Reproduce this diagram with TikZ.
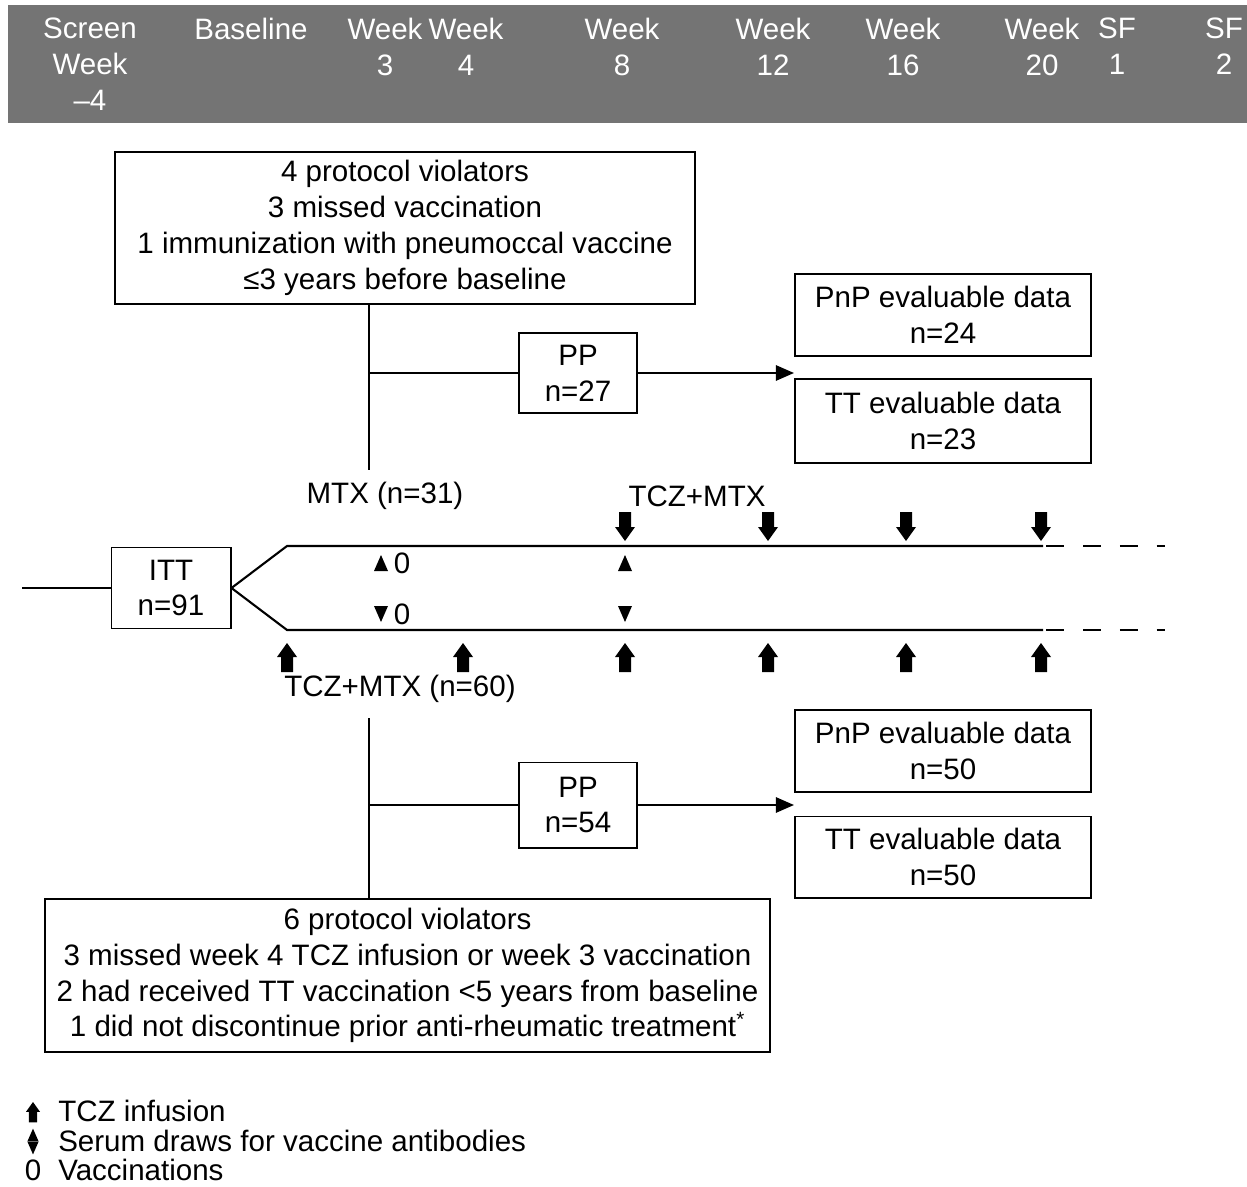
\documentclass[tikz,border=0pt]{standalone}
\usepackage{fontspec}
\setmainfont{Liberation Sans}
\usetikzlibrary{arrows.meta,positioning}
\definecolor{hdrgray}{RGB}{116,116,116}

\tikzset{
  every node/.style={font=\fontsize{21}{25.5}\selectfont},
  box/.style={draw, line width=1.4pt, align=center, inner sep=0pt},
  hdr/.style={text=white, align=center, anchor=north, inner sep=0pt},
  line/.style={line width=1.5pt},
  dashline/.style={line width=1.5pt, dash pattern=on 0.45cm off 0.47cm},
  flow/.style={line width=1.4pt, -{Triangle[length=0.45cm,width=0.38cm]}},
  tczup/.pic={\fill (0,0) -- (10,14) -- (6,14) -- (6,29) -- (-6,29) -- (-6,14) -- (-10,14) -- cycle;},
  tczdown/.pic={\fill (0,0) -- (10,-14) -- (6,-14) -- (6,-29) -- (-6,-29) -- (-6,-14) -- (-10,-14) -- cycle;},
  serumup/.pic={\fill (-7,8) -- (7,8) -- (0,-8) -- cycle;},
  serumdown/.pic={\fill (-7,-8) -- (7,-8) -- (0,8) -- cycle;},
  vacc/.style={inner sep=0pt}
}

\begin{document}
\begin{tikzpicture}[x=0.025cm, y=-0.025cm]
  \useasboundingbox (0,0) rectangle (1247,1187);

  % Header
  \fill[hdrgray] (8,5) rectangle (1247,123);
  \node[hdr] (hscr) at (90,18) {Screen\\Week\\\textendash4};
  \node[hdr] (hbase) at (251,18) {Baseline};
  \node[hdr] (hw3) at (385,18) {Week\\3};
  \node[hdr] (hw4) at (466,18) {Week\\4};
  \node[hdr] (hw8) at (622,18) {Week\\8};
  \node[hdr] (hw12) at (773,18) {Week\\12};
  \node[hdr] (hw16) at (903,18) {Week\\16};
  \node[hdr] (hw20) at (1042,18) {Week\\20};
  \node[hdr] (hsf1) at (1117,18) {SF\\1};
  \node[hdr] (hsf2) at (1224,18) {SF\\2};

  % MTX arm
  \node[box, minimum width=14.5cm, minimum height=3.8cm] (viol1) at (405,228)
    {4 protocol violators\\3 missed vaccination\\1 immunization with pneumoccal vaccine\\≤3 years before baseline};
  \node[box, minimum width=2.95cm, minimum height=2cm] (pp1) at (578,373) {PP\\n=27};
  \node[box, minimum width=7.4cm, minimum height=2.05cm] (pnp1) at (943,315) {PnP evaluable data\\n=24};
  \node[box, minimum width=7.4cm, minimum height=2.1cm] (tt1) at (943,421) {TT evaluable data\\n=23};
  \coordinate (v1) at (369,470);
  \draw[line] (viol1.south -| v1) -- (v1);
  \draw[line] (v1 |- pp1.west) -- (pp1.west);
  \draw[flow] (pp1.east) -- (pp1.east -| pnp1.west);
  \node (mtx) at (385,496) {MTX (n=31)};
  \node (tczmtx1) at (697,496) {TCZ+MTX};

  % ITT and arms
  \node[box, minimum width=2.975cm, minimum height=2.025cm] (itt) at (171,588) {ITT\\n=91};
  \coordinate (start) at (22,588);
  \coordinate (up0) at (287,546);
  \coordinate (up1) at (1043,546);
  \coordinate (upend) at (1165,546);
  \coordinate (lo0) at (287,630);
  \coordinate (lo1) at (1043,630);
  \coordinate (loend) at (1165,630);
  \draw[line] (start) -- (itt.west);
  \draw[line] (itt.east) -- (up0) -- (up1);
  \draw[line] (itt.east) -- (lo0) -- (lo1);
  \draw[dashline] ([xshift=0.08cm]up1) -- (upend);
  \draw[dashline] ([xshift=0.08cm]lo1) -- (loend);

  % Infusions
  \foreach \x in {625,768,906,1041} \pic at (\x,541) {tczdown};
  \foreach \x in {287,463,625,768,906,1041} \pic at (\x,643) {tczup};

  % Serum draws and vaccinations
  \pic at (381,563) {serumup};
  \pic at (381,614) {serumdown};
  \pic at (625,563) {serumup};
  \pic at (625,614) {serumdown};
  \node[vacc] (vac1) at (402,563) {0};
  \node[vacc] (vac2) at (402,614) {0};

  % TCZ+MTX arm
  \node (tczmtx2) at (400,689) {TCZ+MTX (n=60)};
  \node[box, minimum width=2.95cm, minimum height=2.125cm] (pp2) at (578,805) {PP\\n=54};
  \node[box, minimum width=7.4cm, minimum height=2.05cm] (pnp2) at (943,751) {PnP evaluable data\\n=50};
  \node[box, minimum width=7.4cm, minimum height=2.025cm] (tt2) at (943,857) {TT evaluable data\\n=50};
  \node[box, minimum width=18.125cm, minimum height=3.825cm] (viol2) at (407.5,975.5)
    {6 protocol violators\\3 missed week 4 TCZ infusion or week 3 vaccination\\2 had received TT vaccination <5 years from baseline\\1 did not discontinue prior anti-rheumatic treatment\textsuperscript{*}};
  \coordinate (v2) at (369,718);
  \draw[line] (v2) -- (v2 |- viol2.north);
  \draw[line] (v2 |- pp2.west) -- (pp2.west);
  \draw[flow] (pp2.east) -- (pp2.east -| pnp2.west);

  % Legend
  \pic[scale=0.7] at (33,1102) {tczup};
  \pic[scale=0.8] at (33,1135) {serumup};
  \pic[scale=0.8] at (33,1148) {serumdown};
  \node[vacc] (legvac) at (33,1170) {0};
  \node[anchor=west, inner sep=0pt] (leg1) at (58,1111) {TCZ infusion};
  \node[anchor=west, inner sep=0pt] (leg2) at (58,1141) {Serum draws for vaccine antibodies};
  \node[anchor=west, inner sep=0pt] (leg3) at (58,1170) {Vaccinations};

\end{tikzpicture}
\end{document}
